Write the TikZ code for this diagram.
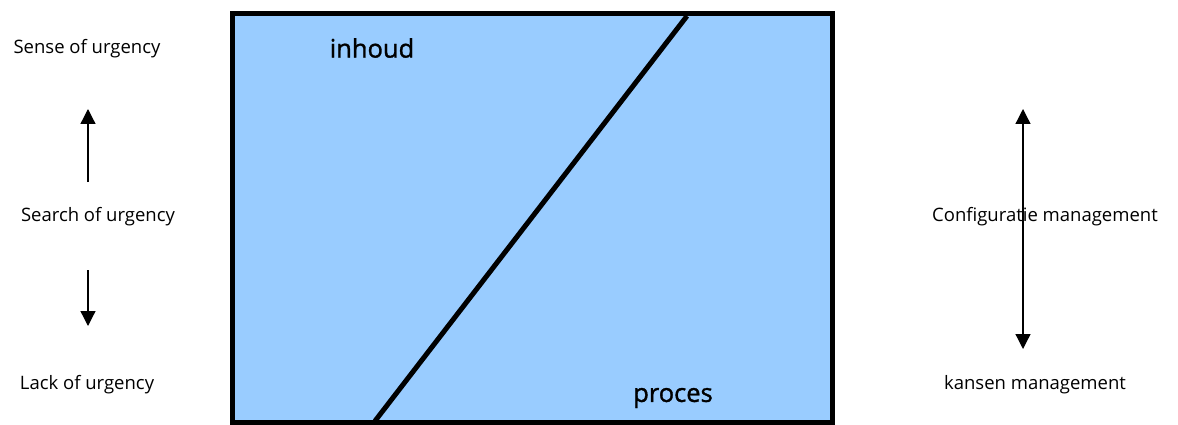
\documentclass[tikz,border=0pt]{standalone}
\usepackage{fontspec}
\setmainfont{Open Sans}
\newfontfamily\semifont[FakeBold=1.3]{Open Sans}
\usetikzlibrary{arrows.meta}
\definecolor{boxblue}{HTML}{99CCFF}
\tikzset{
  lbl/.style={font=\fontsize{18.5}{22}\selectfont, inner sep=0pt, anchor=center},
  big/.style={font=\semifont\fontsize{25.5}{28}\selectfont, inner sep=0pt, anchor=center},
  arr/.style={line width=1.3pt, -{Triangle[length=15pt,width=15pt]}},
  darr/.style={line width=1.3pt, {Triangle[length=15pt,width=15pt]}-{Triangle[length=15pt,width=15pt]}}
}
\begin{document}
\begin{tikzpicture}[x=1pt,y=-1pt]
\useasboundingbox (0,0) rectangle (1178,425);
% box
\draw[fill=boxblue, line width=5pt] (232,14) rectangle (832,422);
\coordinate (dtop) at (687,16);
\coordinate (dbot) at (375,421);
\draw[line width=5pt] (dbot) -- (dtop);
\node[big] (inhoud) at (372,48) {inhoud};
\node[big] (proces) at (673,398) {proces};
% left
\node[lbl] (sense) at (87,49) {Sense of urgency};
\node[lbl] (search) at (98,217) {Search of urgency};
\node[lbl] (lack) at (87,385) {Lack of urgency};
\coordinate (ua) at (88,182);
\coordinate (ub) at (88,109);
\coordinate (da) at (88,270);
\coordinate (db) at (88,326);
\draw[arr] (ua) -- (ub);
\draw[arr] (da) -- (db);
% right
\coordinate (ra) at (1023,109);
\coordinate (rb) at (1023,349);
\draw[darr] (ra) -- (rb);
\node[lbl] (config) at (1045,217) {Configuratie management};
\node[lbl] (kansen) at (1035,385) {kansen management};
\end{tikzpicture}
\end{document}
